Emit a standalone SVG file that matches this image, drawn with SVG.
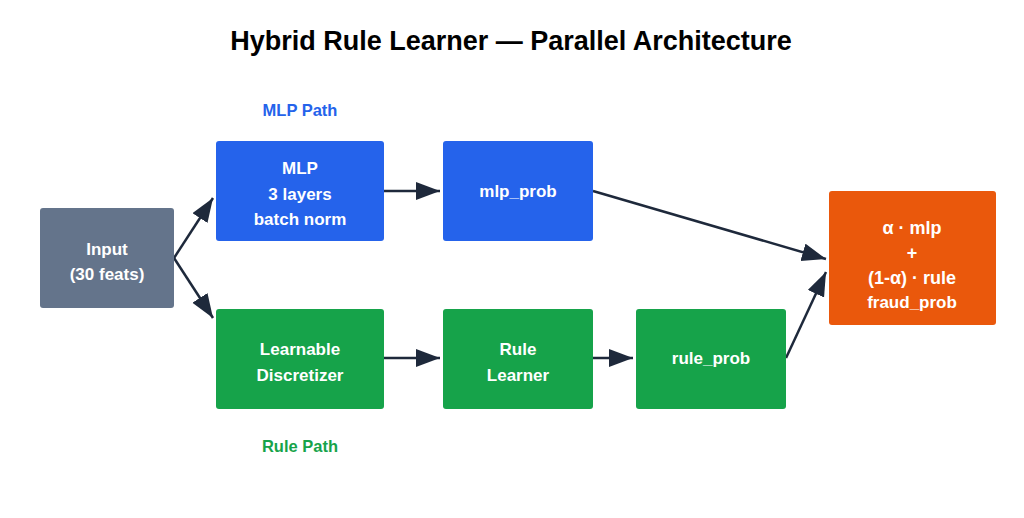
<svg xmlns="http://www.w3.org/2000/svg" width="1024" height="518" viewBox="0 0 1024 518">
<style>
.t{font-family:"Liberation Sans",Arial,sans-serif;font-weight:bold;text-anchor:middle}
.n{fill:#fff;font-size:17px}
.f{font-size:18px}
.c{stroke:#1e293b;stroke-width:2.5;fill:none;marker-end:url(#ah)}
</style>
<defs>
<marker id="ah" markerUnits="userSpaceOnUse" markerWidth="26" markerHeight="20" refX="24" refY="9" orient="auto">
<path d="M0,0 L24,9 L0,18 Z" fill="#1e293b"/>
</marker>
</defs>
<rect width="1024" height="518" fill="#fff"/>
<text class="t" x="511" y="50" font-size="27" fill="#000">Hybrid Rule Learner — Parallel Architecture</text>
<text class="t" x="300" y="116" font-size="16.5" fill="#2563eb">MLP Path</text>
<text class="t" x="300" y="452" font-size="16.5" fill="#16a34a">Rule Path</text>
<g id="connectors">
<path class="c" d="M174,258 L213,198"/>
<path class="c" d="M174,258 L213,318"/>
<path class="c" d="M384,191 L440,191"/>
<path class="c" d="M593,191 L826,259"/>
<path class="c" d="M384,358 L440,358"/>
<path class="c" d="M593,358 L633,358"/>
<path class="c" d="M786,358 L826,272"/>
</g>
<g id="input">
<rect x="40" y="208" width="134" height="100" rx="3" fill="#64748b"/>
<text class="t n" x="107" y="255">Input</text>
<text class="t n" x="107" y="280">(30 feats)</text>
</g>
<g id="mlp">
<rect x="216" y="141" width="168" height="100" rx="3" fill="#2563eb"/>
<text class="t n" x="300" y="174">MLP</text>
<text class="t n" x="300" y="200">3 layers</text>
<text class="t n" x="300" y="225">batch norm</text>
</g>
<g id="mlp_prob">
<rect x="443" y="141" width="150" height="100" rx="3" fill="#2563eb"/>
<text class="t n" x="518" y="197">mlp_prob</text>
</g>
<g id="discretizer">
<rect x="216" y="309" width="168" height="100" rx="3" fill="#16a34a"/>
<text class="t n" x="300" y="355">Learnable</text>
<text class="t n" x="300" y="381">Discretizer</text>
</g>
<g id="rule_learner">
<rect x="443" y="309" width="150" height="100" rx="3" fill="#16a34a"/>
<text class="t n" x="518" y="355">Rule</text>
<text class="t n" x="518" y="381">Learner</text>
</g>
<g id="rule_prob">
<rect x="636" y="309" width="150" height="100" rx="3" fill="#16a34a"/>
<text class="t n" x="711" y="364">rule_prob</text>
</g>
<g id="fusion">
<rect x="829" y="191" width="167" height="134" rx="3" fill="#ea580c"/>
<text class="t n f" x="912" y="234">α · mlp</text>
<text class="t n f" x="912" y="259">+</text>
<text class="t n f" x="912" y="284">(1-α) · rule</text>
<text class="t n" x="912" y="308" font-size="16">fraud_prob</text>
</g>
</svg>
